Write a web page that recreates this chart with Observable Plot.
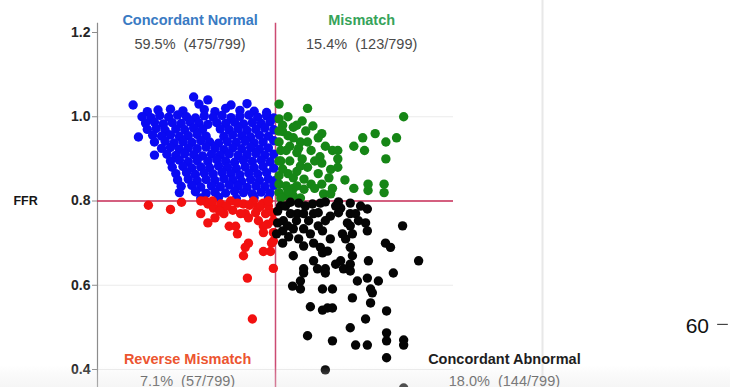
<!DOCTYPE html>
<html>
<head>
<meta charset="utf-8">
<script src="https://cdn.jsdelivr.net/npm/d3@7"></script>
<script src="https://cdn.jsdelivr.net/npm/@observablehq/plot@0.6"></script>
<style>
  html, body { margin: 0; padding: 0; background: #fff; }
  #chart { position: relative; width: 730px; height: 387px; overflow: hidden; }
  #chart text { white-space: pre; }
  #chart::after {
    content: ""; position: absolute; left: 0; right: 0; bottom: 0; height: 22px; pointer-events: none;
    background: linear-gradient(to bottom, rgba(238,238,238,0) 0%, rgba(234,234,234,0.22) 40%, rgba(228,228,228,0.35) 100%);
  }
</style>
</head>
<body>
<div id="chart"></div>
<script>
// % diameter stenosis (x) vs FFR (y), one array per quadrant
const concordantNormal = [
  [27,1.047],[31,1.040],
  [10,1.028],[28.5,1.030],[37.5,1.028],[42,1.031],
  [14,1.012],[17,1.016],[20.5,1.018],[24,1.014],[30,1.017],[33,1.012],[36,1.02],[40,1.015],[44,1.013],[47.5,1.01],
  [12.5,1.0],[15,0.998],[17.5,1.003],[20,0.999],[22.5,1.004],[25,1.0],[27.5,0.997],[30,1.002],[32.5,0.999],[35,1.003],[37.5,0.998],[40,1.001],[42.5,1.004],[45,0.999],[47.5,1.002],[49.5,0.997],
  [13.5,0.985],[16,0.987],[18.5,0.983],[21,0.986],[23.5,0.984],[26,0.988],[28.5,0.985],[31,0.982],[33.5,0.986],[36,0.984],[38.5,0.987],[41,0.983],[43.5,0.986],[46,0.984],[48.5,0.988],
  [14,0.97],[16.5,0.972],[19,0.968],[22,0.971],[24.5,0.969],[27,0.973],[29.5,0.97],[34.5,0.971],[37,0.969],[39.5,0.972],[42,0.968],[44.5,0.97],[47,0.973],[49.5,0.969],
  [11.5,0.952],[15.5,0.956],[18,0.954],[20.5,0.957],[23,0.953],[25.5,0.955],[28,0.958],[30.5,0.954],[35.5,0.953],[38,0.957],[40.5,0.955],[43,0.952],[45.5,0.956],[48,0.954],
  [16,0.94],[19,0.942],[21.5,0.938],[24,0.941],[26.5,0.939],[29,0.943],[31.5,0.94],[34,0.937],[36.5,0.941],[39,0.939],[41.5,0.942],[44,0.938],[46.5,0.94],[49.5,0.943],
  [18,0.925],[20.5,0.927],[23,0.923],[25.5,0.926],[28,0.924],[30.5,0.928],[33,0.925],[35.5,0.922],[38,0.926],[40.5,0.924],[43,0.927],[45.5,0.923],[48,0.926],
  [16,0.909],[19.5,0.911],[22,0.908],[24.5,0.912],[27,0.91],[29.5,0.907],[32,0.911],[34.5,0.909],[37,0.912],[39.5,0.908],[42,0.91],[44.5,0.913],[47,0.909],[49.5,0.911],
  [20.5,0.895],[23,0.897],[25.5,0.893],[28,0.896],[31,0.894],[33.5,0.898],[36,0.895],[38.5,0.892],[41,0.896],[43.5,0.894],[46,0.897],[48.5,0.893],
  [21,0.88],[24,0.882],[26.5,0.878],[29,0.881],[31.5,0.879],[34,0.883],[36.5,0.88],[39,0.877],[41.5,0.881],[44,0.879],[46.5,0.882],[49.5,0.878],
  [22,0.865],[25,0.867],[27.5,0.863],[30,0.866],[32.5,0.864],[35,0.868],[37.5,0.865],[40,0.862],[42.5,0.866],[45,0.864],[47.5,0.867],
  [22.5,0.85],[25.5,0.852],[28,0.848],[30.5,0.851],[33,0.849],[35.5,0.853],[38,0.85],[40.5,0.847],[43,0.851],[45.5,0.849],[48,0.852],[49.8,0.848],
  [23.5,0.835],[26.5,0.837],[29,0.833],[32,0.836],[34.5,0.834],[37,0.838],[39.5,0.835],[42,0.832],[44.5,0.836],[47,0.834],[49.5,0.837],
  [23,0.82],[27.5,0.822],[30.5,0.818],[33,0.821],[36,0.819],[38.5,0.823],[41,0.82],[43.5,0.817],[46,0.821],[48.5,0.819],
  [29,0.807],[34,0.809],[39,0.806],[44,0.808],[48,0.807]
];

const mismatch = [
  [51,1.03],[59,1.02],[86,1.0],[53.5,1.0],[57.5,0.99],[56,0.98],[55,0.975],[52,0.98],[51,0.995],
  [52,0.965],[53.5,0.955],[63,0.96],[57,0.94],[59,0.94],[62,0.95],[64,0.93],[56.5,0.925],[60,0.92],
  [66,0.92],[67.5,0.92],[62.5,0.905],[67.5,0.90],[57.5,0.90],[51.5,0.92],[51.5,0.895],[59,0.88],
  [63,0.89],[65.5,0.875],[67.5,0.88],[56,0.87],[53.5,0.865],[62,0.865],[65,0.855],[55,0.855],
  [58,0.852],[60,0.84],[63,0.84],[66,0.83],[61,0.83],[58,0.828],[69.5,0.85],[72,0.83],[76,0.825],
  [76,0.84],[80.5,0.84],[80.5,0.82],[63.5,0.817],[65.5,0.817],[72,0.93],[74.5,0.95],[75,0.92],
  [78,0.96],[81,0.94],[84,0.95],[81,0.90],
  [51,0.84],[53,0.836],[55,0.83],[51,0.82],[53,0.812],[55,0.812],[57,0.807],[51.5,0.807],[53.5,0.824],
  [56,0.836],[51,0.86],[52,0.876],[54,0.895],[53,0.92],[51,0.94],[54,0.93],[56,0.915],[51,0.895],
  [51,0.966],[55,0.95],[58.5,0.966],[60.5,0.978],[57,0.883],[61,0.895]
];

const reverseMismatch = [
  [14.3,0.79],[20.5,0.78],[23.6,0.797],[29,0.77],[31,0.748],[31,0.793],[32.6,0.783],[33,0.76],
  [35.5,0.77],[37.4,0.80],[38,0.778],[37,0.74],[38.8,0.74],[39.3,0.722],[41,0.793],[41.5,0.77],
  [42.4,0.76],[42.4,0.70],[41.5,0.69],[41,0.67],[43.8,0.80],[45,0.783],[46.6,0.795],[47.2,0.77],
  [47.8,0.745],[46.6,0.74],[48.9,0.70],[46.6,0.68],[48.6,0.68],[49.4,0.64],[42.1,0.617],[43.5,0.52],
  [30.3,0.80],[32.3,0.80],[34.6,0.793],[39.3,0.795],[42.7,0.79],[45.8,0.788],[48,0.788],[49.2,0.772],
  [44.4,0.772],[40.2,0.77],[36.2,0.788],[34.3,0.776],[49.4,0.753],[45.2,0.753],[46.6,0.725],
  [49.4,0.725],[49.4,0.705],[48,0.80],[29,0.80]
];

const concordantAbnormal = [
  [51.4,0.788],[56.5,0.795],[56.2,0.77],[57.9,0.77],[54.2,0.77],[52.2,0.753],[52,0.729],[50.3,0.722],
  [55,0.734],[57.9,0.734],[59.3,0.753],[60.7,0.77],[62,0.772],[62.6,0.795],[64,0.798],[67.7,0.798],
  [68.3,0.783],[71,0.795],[71,0.77],[72.5,0.77],[70.2,0.748],[71,0.741],[73.3,0.753],[75.3,0.748],
  [75.8,0.781],[75.8,0.729],[62,0.741],[59.8,0.722],[63.2,0.729],[65.4,0.71],[68.8,0.722],[69.7,0.71],
  [71.6,0.722],[85.7,0.741],[80.9,0.70],[82.3,0.69],[52,0.70],[55,0.67],[57.9,0.693],[60.7,0.70],
  [62.6,0.69],[63.2,0.677],[64.6,0.681],[71,0.69],[71.6,0.67],[68.3,0.658],[66.9,0.65],[71,0.65],
  [69.1,0.639],[71,0.634],[60.7,0.658],[57.9,0.639],[57.9,0.629],[61.8,0.639],[64,0.639],[64,0.629],
  [76.1,0.658],[90.2,0.658],[83.1,0.629],[73,0.61],[75.8,0.617],[78.9,0.61],[76.7,0.591],[77.2,0.582],
  [57,0.61],[54.8,0.598],[57,0.591],[63.2,0.591],[66,0.591],[71.6,0.57],[59.8,0.549],[63.2,0.541],
  [64.6,0.546],[66,0.546],[76.7,0.558],[81.2,0.539],[75.3,0.52],[71,0.499],[59,0.48],[66,0.468],
  [72.5,0.458],[75.8,0.458],[81.2,0.468],[81.2,0.487],[86,0.47],[86,0.458],[81.2,0.428],[64,0.399],
  [86,0.356],[50.6,0.776],[52.8,0.788],[54.2,0.797],[53.4,0.741],[50.6,0.748],[55.9,0.753],[58.4,0.788],
  [60.4,0.793],[65.4,0.764],[66.9,0.788],[73.9,0.788],[64,0.753],[56.5,0.71],[53.7,0.715],[67.7,0.772]
];

// axis and reference values
const ffrTicks = [0.4, 0.6, 0.8, 1.0, 1.2];
const ffrGrid = [0.4, 0.6, 1.0];
const ffrCutoff = 0.8;
const stenosisCutoff = 50;

// quadrant annotations
const quadrantTitles = ["Concordant Normal", "Mismatch", "Reverse Mismatch", "Concordant Abnormal"];
const quadrantStats = ["59.5%  (475/799)", "15.4%  (123/799)", "7.1%  (57/799)", "18.0%  (144/799)"];
const titleColors = ["#3a7bc3", "#36a35a", "#ec5530", "#1e1e1e"];
const labelStenosis = [26, 74.2, 25.3, 114.3];
const titleFFR = [1.229, 1.229, 0.425, 0.423];
const statsFFR = [1.172, 1.172, 0.373, 0.373];

const titles = quadrantTitles.map((t, i) => ({text: t, x: labelStenosis[i], y: titleFFR[i], color: titleColors[i]}));
const stats = quadrantStats.map((t, i) => ({text: t, x: labelStenosis[i], y: statsFFR[i]}));

const font = "'Liberation Sans', Arial, Helvetica, sans-serif";
const dotR = 4.7;

const chart = Plot.plot({
  width: 730,
  height: 387,
  marginLeft: 97,
  marginRight: 277,
  marginTop: 32,
  marginBottom: 18,
  style: {fontFamily: font, background: "#fff"},
  x: {domain: [0, 100], axis: null},
  y: {domain: [0.4, 1.2]},
  marks: [
    Plot.ruleY(ffrGrid, {x1: 0, x2: 100, stroke: "#ebebeb", strokeWidth: 1.2}),
    Plot.ruleX([125], {y1: 1.4, y2: 0.3, stroke: "#e8e8e8", strokeWidth: 2}),
    Plot.ruleX([0], {y1: 1.222, y2: 0.3, stroke: "#8c8c8c", strokeWidth: 1.2}),
    Plot.ruleY([ffrCutoff], {x1: 0, x2: 100, stroke: "#c62a55", strokeWidth: 1.5}),
    Plot.ruleX([stenosisCutoff], {y1: 1.222, y2: 0.3, stroke: "#cc4a72", strokeWidth: 1.5}),
    Plot.dot(concordantNormal, {x: d => d[0], y: d => d[1], r: dotR, fill: "#0a0af2"}),
    Plot.dot(mismatch, {x: d => d[0], y: d => d[1], r: dotR, fill: "#168616"}),
    Plot.dot(reverseMismatch, {x: d => d[0], y: d => d[1], r: dotR, fill: "#f21010"}),
    Plot.dot(concordantAbnormal, {x: d => d[0], y: d => d[1], r: dotR, fill: "#050505"}),
    Plot.axisY({
      ticks: ffrTicks, tickFormat: d3.format(".1f"), tickSize: 5, tickPadding: 2,
      fontSize: 14, fontWeight: "bold", fill: "#262626", stroke: "#8c8c8c", label: null
    }),
    Plot.text(["FFR"], {x: -20.2, y: ffrCutoff, text: d => d, fontSize: 12.5, fontWeight: "bold", fill: "#151515"}),
    Plot.text(titles, {x: "x", y: "y", text: "text", fill: "color", fontSize: 14.5, fontWeight: "bold"}),
    Plot.text(stats, {x: "x", y: "y", text: "text", fill: "#4a4a4a", fontSize: 14.5}),
    Plot.text(["60"], {x: 168.5, y: 0.503, text: d => d, fontSize: 21, fill: "#111"}),
    Plot.ruleY([0.507], {x1: 174.2, x2: 177.2, stroke: "#444", strokeWidth: 1.2})
  ]
});

document.getElementById("chart").appendChild(chart);
</script>
</body>
</html>
